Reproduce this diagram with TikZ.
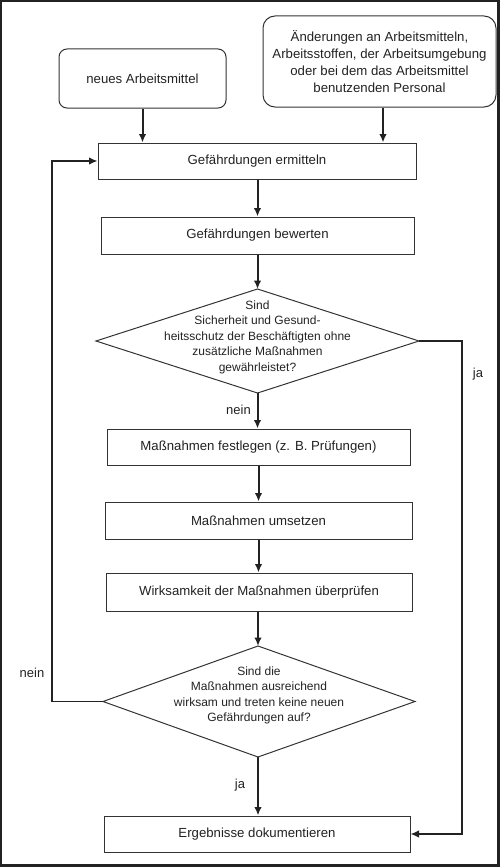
\documentclass[tikz,border=0pt]{standalone}
\usepackage{fontspec}
\setmainfont{Liberation Sans}
\usetikzlibrary{arrows.meta,calc}
\definecolor{ink}{HTML}{222222}
\definecolor{edge}{HTML}{333333}
\begin{document}
\begin{tikzpicture}[x=1pt,y=-1pt]
\tikzset{
 every node/.style={text=ink},
 box/.style={draw=edge, line width=1pt, inner sep=0pt, font=\fontsize{13.2}{17}\selectfont, align=center},
 rbox/.style={box},
 dtext/.style={inner sep=0pt, font=\fontsize{12}{15.5}\selectfont, align=center},
 diam/.style={draw=edge, line width=1pt, line join=miter},
 arr/.style={draw=ink, line width=2pt, -{Latex[length=8.5pt,width=7.5pt]}},
 barr/.style={draw=ink, line width=1.4pt, -{Latex[length=8.5pt,width=7.5pt]}},
 lbl/.style={font=\fontsize{13}{15}\selectfont, inner sep=0pt},
 frame/.style={draw=ink, line width=2.4pt},
}
\useasboundingbox (0,0) rectangle (500,867);
\draw[frame] (1.2,1.2) rectangle (498.3,865.3);

\node[rbox, minimum width=167pt, minimum height=59pt, rounded corners=8pt] (n1) at (142.5,78.5) {neues Arbeitsmittel};
\node[rbox, minimum width=233pt, minimum height=91pt, rounded corners=12pt] (n2) at (379.5,61.5) {Änderungen an Arbeitsmitteln,\\Arbeitsstoffen, der Arbeitsumgebung\\oder bei dem das Arbeitsmittel\\benutzenden Personal};

\node[box, minimum width=318pt, minimum height=36pt] (erm) at (257,161) {Gefährdungen ermitteln};
\node[box, minimum width=313pt, minimum height=37pt] (bew) at (257.5,235.5) {Gefährdungen bewerten};

\node[dtext] (d1) at (257.5,337) {Sind\\Sicherheit und Gesund-\\heitsschutz der Beschäftigten ohne\\zusätzliche Maßnahmen\\gewährleistet?};
\coordinate (d1n) at (257.5,289);
\coordinate (d1e) at (419,341);
\coordinate (d1s) at (257.5,393);
\coordinate (d1w) at (96,341);
\draw[diam] (d1n) -- (d1e) -- (d1s) -- (d1w) -- cycle;

\node[box, minimum width=303pt, minimum height=36pt] (fest) at (258.5,447) {Maßnahmen festlegen (z. B. Prüfungen)};
\node[box, minimum width=307pt, minimum height=37pt] (ums) at (258.5,520.5) {Maßnahmen umsetzen};
\node[box, minimum width=306pt, minimum height=38pt] (wirk) at (259,592) {Wirksamkeit der Maßnahmen überprüfen};

\node[dtext] (d2) at (259,695.5) {Sind die\\Maßnahmen ausreichend\\wirksam und treten keine neuen\\Gefährdungen auf?};
\coordinate (d2n) at (258,646);
\coordinate (d2e) at (415,701.5);
\coordinate (d2s) at (258,757);
\coordinate (d2w) at (103,701.5);
\draw[diam] (d2n) -- (d2e) -- (d2s) -- (d2w) -- cycle;

\node[box, minimum width=306pt, minimum height=36pt] (erg) at (257,834) {Ergebnisse dokumentieren};

% vertical arrows
\draw[arr] (n1.south) -- (n1.south |- erm.north);
\draw[arr] ([xshift=3.5pt]n2.south) -- ([xshift=3.5pt]n2.south |- erm.north);
\draw[arr] (erm.south -| d1n) -- (bew.north -| d1n);
\draw[arr] (bew.south -| d1n) -- (d1n);
\draw[arr] (d1s) -- (d1s |- fest.north);
\draw[arr] (fest.south) -- (fest.south |- ums.north);
\draw[arr] (ums.south) -- (ums.south |- wirk.north);
\draw[arr] (wirk.south -| d2n) -- (d2n);
\draw[arr] (d2s) -- (d2s |- erg.north);

% branches
\coordinate (jr) at (462,341);
\draw[barr] (d1e) -- (jr) -- (jr |- erg.east) -- (erg.east);
\coordinate (nl) at (52,701.5);
\draw[barr] (d2w) -- (nl) -- (nl |- erm.west) -- (erm.west);

% labels
\node[lbl] (ja1) at (478,374) {ja};
\node[lbl, anchor=east] (nein1) at (251,410) {nein};
\node[lbl] (nein2) at (32,673) {nein};
\node[lbl] (ja2) at (240,785) {ja};
\end{tikzpicture}
\end{document}
